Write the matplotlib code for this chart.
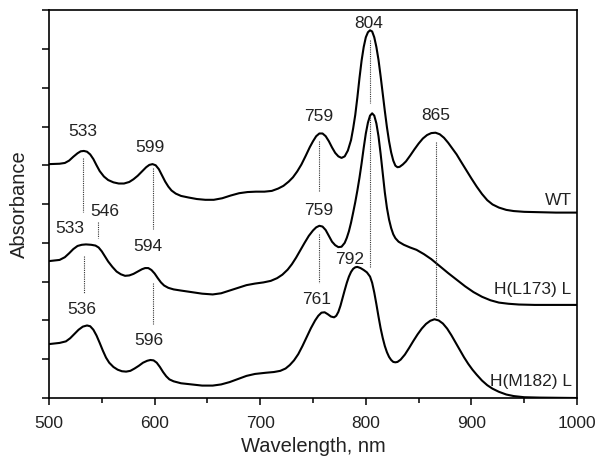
import matplotlib
matplotlib.use("Agg")
import matplotlib.pyplot as plt
from matplotlib.ticker import MultipleLocator

plt.rcParams["font.family"] = ["Liberation Sans", "DejaVu Sans"]

# spectra (wavelength nm, absorbance in y-tick units)
wt_x = [500, 510, 515, 519, 523, 527, 530, 533, 536, 539, 542, 545, 548, 552, 556,
        561, 566, 571, 576, 580, 584, 588, 592, 595, 598, 601, 604, 607, 610, 613,
        616, 620, 625, 632, 640, 648, 656, 664, 672, 680, 688, 696, 704, 711, 717,
        722, 727, 731, 735, 739, 743, 747, 750, 753, 756, 759, 762, 765, 768, 771,
        774, 777, 780, 783, 786, 788, 790, 792, 794, 796, 798, 800, 802, 804, 806,
        808, 810, 812, 814, 816, 818, 820, 822, 824, 826, 828, 830, 832, 835, 838,
        842, 846, 850, 854, 858, 862, 866, 870, 874, 878, 882, 886, 890, 895, 900,
        905, 910, 915, 920, 926, 933, 940, 950, 965, 980, 1000]
wt_y = [6.03, 6.04, 6.06, 6.12, 6.22, 6.31, 6.36, 6.37, 6.35, 6.28, 6.16, 6.00, 5.85, 5.71, 5.62,
        5.56, 5.53, 5.53, 5.57, 5.64, 5.73, 5.84, 5.95, 6.01, 6.03, 6.00, 5.90, 5.74, 5.58, 5.45,
        5.35, 5.27, 5.21, 5.17, 5.13, 5.11, 5.11, 5.15, 5.22, 5.28, 5.31, 5.32, 5.32, 5.34, 5.40,
        5.47, 5.58, 5.69, 5.84, 6.02, 6.24, 6.47, 6.62, 6.75, 6.82, 6.82, 6.75, 6.62, 6.46, 6.32,
        6.23, 6.19, 6.23, 6.38, 6.65, 6.95, 7.30, 7.75, 8.25, 8.70, 9.05, 9.30, 9.43, 9.48, 9.45,
        9.30, 9.05, 8.72, 8.30, 7.85, 7.40, 6.98, 6.62, 6.33, 6.12, 5.99, 5.95, 5.96, 6.02, 6.10,
        6.25, 6.41, 6.56, 6.69, 6.78, 6.83, 6.84, 6.80, 6.71, 6.58, 6.43, 6.28, 6.10, 5.88, 5.66,
        5.45, 5.26, 5.10, 4.99, 4.91, 4.85, 4.82, 4.80, 4.79, 4.78, 4.78]

l173_x = [500, 510, 515, 519, 523, 527, 531, 535, 540, 544, 547, 550, 553, 556, 560,
          564, 568, 572, 576, 580, 584, 588, 591, 594, 597, 600, 603, 606, 609, 613,
          618, 625, 635, 645, 655, 663, 671, 679, 687, 695, 703, 710, 716, 721, 726,
          730, 734, 738, 742, 746, 750, 753, 756, 759, 762, 765, 768, 771, 774, 777,
          780, 782, 784, 786, 788, 790, 792, 794, 796, 798, 800, 802, 804, 806, 808,
          810, 812, 814, 816, 818, 820, 822, 824, 826, 828, 831, 836, 842, 848, 855,
          862, 870, 878, 886, 894, 902, 910, 918, 926, 935, 945, 960, 1000]
l173_y = [3.53, 3.56, 3.63, 3.73, 3.84, 3.92, 3.95, 3.96, 3.95, 3.93, 3.88, 3.78, 3.65, 3.52, 3.38,
          3.26, 3.19, 3.15, 3.16, 3.20, 3.26, 3.32, 3.35, 3.35, 3.30, 3.21, 3.09, 2.98, 2.90, 2.84,
          2.80, 2.77, 2.73, 2.69, 2.67, 2.70, 2.77, 2.84, 2.91, 2.95, 2.98, 3.02, 3.09, 3.18, 3.31,
          3.45, 3.62, 3.81, 4.00, 4.18, 4.32, 4.40, 4.44, 4.42, 4.33, 4.18, 4.03, 3.94, 3.89, 3.90,
          4.00, 4.13, 4.30, 4.52, 4.78, 5.05, 5.35, 5.68, 6.05, 6.45, 6.82, 7.10, 7.28, 7.34, 7.28,
          7.08, 6.75, 6.30, 5.80, 5.30, 4.90, 4.60, 4.38, 4.22, 4.12, 4.03, 3.95, 3.88, 3.82, 3.71,
          3.58, 3.40, 3.22, 3.05, 2.88, 2.73, 2.61, 2.52, 2.46, 2.43, 2.41, 2.40, 2.40]

m182_x = [500, 510, 516, 520, 524, 528, 532, 536, 539, 542, 545, 548, 551, 554, 557,
          561, 565, 569, 573, 577, 581, 585, 589, 593, 596, 599, 602, 605, 608, 611,
          614, 618, 625, 635, 645, 655, 663, 671, 679, 687, 695, 705, 713, 719, 724,
          728, 732, 736, 740, 744, 748, 752, 755, 758, 761, 764, 767, 770, 772, 774,
          776, 778, 780, 782, 784, 786, 788, 790, 792, 795, 798, 801, 804, 806, 808,
          810, 812, 814, 816, 818, 820, 822, 824, 826, 828, 830, 833, 837, 841, 845,
          849, 853, 857, 861, 865, 869, 873, 877, 881, 885, 889, 893, 897, 901, 905,
          910, 915, 920, 926, 933, 940, 950, 965, 1000]
m182_y = [1.39, 1.42, 1.46, 1.54, 1.65, 1.76, 1.84, 1.87, 1.85, 1.76, 1.61, 1.42, 1.22, 1.04, 0.91,
          0.80, 0.73, 0.69, 0.68, 0.70, 0.76, 0.83, 0.91, 0.96, 0.98, 0.97, 0.91, 0.80, 0.67, 0.56,
          0.48, 0.43, 0.38, 0.35, 0.32, 0.32, 0.35, 0.41, 0.49, 0.57, 0.62, 0.65, 0.67, 0.70, 0.76,
          0.85, 0.97, 1.13, 1.34, 1.57, 1.80, 2.00, 2.12, 2.20, 2.21, 2.16, 2.10, 2.08, 2.12, 2.22,
          2.38, 2.58, 2.78, 2.97, 3.13, 3.25, 3.33, 3.37, 3.38, 3.35, 3.30, 3.24, 3.13, 2.97, 2.72,
          2.42, 2.10, 1.80, 1.55, 1.34, 1.18, 1.06, 0.98, 0.93, 0.92, 0.93, 0.99, 1.12, 1.29, 1.47,
          1.64, 1.79, 1.91, 1.99, 2.03, 2.00, 1.92, 1.79, 1.62, 1.43, 1.24, 1.05, 0.88, 0.73, 0.60,
          0.45, 0.33, 0.24, 0.16, 0.09, 0.05, 0.02, 0.01, 0.0]

# peak labels: text, x, y
peak_labels = ["533", "599", "759", "804", "865", "533", "546", "594", "759",
               "536", "596", "761", "792"]
peak_lx = [532, 596, 755, 803, 866, 520, 553, 594, 755, 531, 595, 753, 785]
peak_ly = [6.86, 6.46, 7.27, 9.66, 7.29, 4.37, 4.80, 3.90, 4.83, 2.27, 1.49, 2.55, 3.57]

# dotted marker lines: x, y from, y to
mark_x = [532, 546, 598, 756, 804, 533, 598, 756, 804, 866]
mark_y0 = [6.19, 4.55, 5.92, 6.62, 9.23, 3.66, 2.96, 4.24, 7.25, 6.61]
mark_y1 = [4.80, 4.12, 4.35, 5.32, 7.61, 2.70, 1.92, 2.96, 3.38, 2.08]

curve_names = ["WT", "H(L173) L", "H(M182) L"]
curve_label_y = [5.10, 2.80, 0.42]

fig = plt.figure(figsize=(6.0, 4.59), dpi=100)
ax = fig.add_axes([0.0817, 0.1329, 0.88, 0.845])

for xs, ys in [(wt_x, wt_y), (l173_x, l173_y), (m182_x, m182_y)]:
    ax.plot(xs, ys, color="black", linewidth=1.5, solid_joinstyle="round")

for x, y0, y1 in zip(mark_x, mark_y0, mark_y1):
    ax.plot([x, x], [y0, y1], color="#333333", linestyle=(0, (1, 1)), linewidth=0.8)

for t, x, y in zip(peak_labels, peak_lx, peak_ly):
    ax.text(x, y, t, ha="center", va="center", fontsize=12.5, color="#222222")

for name, y in zip(curve_names, curve_label_y):
    ax.text(995, y, name, ha="right", va="center", fontsize=12.5, color="#222222")

ax.set_xlim(500, 1000)
ax.set_ylim(0, 10)
ax.xaxis.set_major_locator(MultipleLocator(100))
ax.xaxis.set_minor_locator(MultipleLocator(50))
ax.yaxis.set_major_locator(MultipleLocator(1))
ax.set_yticklabels([])
ax.tick_params(axis="both", which="major", direction="out", length=5, width=1.1,
               labelsize=12.5, labelcolor="#222222")
ax.tick_params(axis="x", which="major", pad=8)
ax.tick_params(axis="x", which="minor", direction="out", length=3.5, width=1.1)
for s in ax.spines.values():
    s.set_linewidth(1.2)

ax.set_xlabel("Wavelength, nm", fontsize=14.5, labelpad=4, color="#222222")
ax.set_ylabel("Absorbance", fontsize=14.5, labelpad=6, color="#222222")

fig.savefig("out.png", dpi=100)
